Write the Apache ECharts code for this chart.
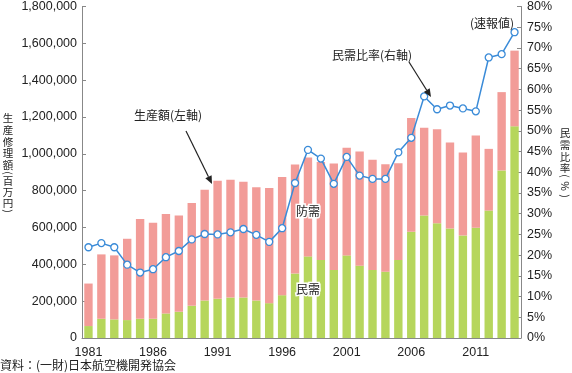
<!DOCTYPE html>
<html><head><meta charset="utf-8">
<script src="https://cdn.jsdelivr.net/npm/echarts@6/dist/echarts.min.js"></script>
<style>html,body{margin:0;padding:0;background:#fff}#c{width:572px;height:373px}</style>
</head><body><div id="c"></div>
<script>
const years = ['1981','1982','1983','1984','1985','1986','1987','1988','1989','1990','1991','1992','1993','1994','1995','1996','1997','1998','1999','2000','2001','2002','2003','2004','2005','2006','2007','2008','2009','2010','2011','2012','2013','2014'];
const civil = [64900,104500,101000,97300,104500,104500,133300,142300,174800,203600,212600,219800,219800,203600,189200,232400,350000,443200,423400,369400,448600,392800,369400,360300,423400,576500,664900,623400,594600,556800,598200,691900,909900,1149500];
const defense = [230800,349500,347600,441500,542300,520700,540500,522600,558500,601800,641400,639600,628800,614400,625200,641400,592000,536800,531600,578300,583800,619800,598200,583800,526100,618100,477400,509900,466700,450400,500900,335100,425200,410900];
const civilRatio = [21.9,22.9,21.9,17.7,15.8,16.6,19.5,21.0,23.8,25.1,25.0,25.5,26.3,24.9,23.2,26.5,37.4,45.4,43.3,37.2,43.7,39.2,38.4,38.4,44.8,48.3,58.3,55.2,56.1,55.4,54.7,67.7,68.5,73.8];

const FONT = '"Liberation Sans", Arial, sans-serif';
const JP = '"Noto Sans CJK JP", sans-serif';
const chart = echarts.init(document.getElementById('c'));

function arrow(x1,y1,x2,y2){
  const a = Math.atan2(y2-y1,x2-x1), L=8, W=3.5;
  const bx = x2 - L*Math.cos(a), by = y2 - L*Math.sin(a);
  const px = -Math.sin(a)*W, py = Math.cos(a)*W;
  return [
    {type:'line', z:100, shape:{x1:x1,y1:y1,x2:bx,y2:by}, style:{stroke:'#222', lineWidth:1.2}},
    {type:'polygon', z:100, shape:{points:[[x2,y2],[bx+px,by+py],[bx-px,by-py]]}, style:{fill:'#222'}}
  ];
}

const txt = (x,y,t,extra,fs) => ({type:'text', z:100, x:x, y:y, style:Object.assign({text:t, font:(fs||12)+'px '+JP, fill:'#222', textAlign:'center', textVerticalAlign:'middle'}, extra||{})});

function haloText(x,y,t){
  return [
    txt(x,y,t,{fill:'#fff', stroke:'#fff', lineWidth:3}),
    Object.assign(txt(x,y,t), {z:101})
  ];
}

function vtitle(x, items){
  return items.map(([c,y,rot]) => {
    const el = txt(x,y,c,{font:'10.5px '+JP});
    if (rot) { el.rotation = -Math.PI/2; }
    return el;
  });
}

chart.setOption({
  animation:false,
  grid:{left:82, right:51, top:5, bottom:35},
  xAxis:{type:'category', data:years,
    axisLine:{lineStyle:{color:'#888'}},
    axisTick:{inside:true, interval:4, length:4, lineStyle:{color:'#888'}},
    axisLabel:{interval:4, color:'#222', fontFamily:FONT, fontSize:12.5, margin:8}},
  yAxis:[
    {type:'value', min:0, max:1800000, interval:200000, splitLine:{show:false},
     axisLine:{show:true, lineStyle:{color:'#888'}},
     axisTick:{show:true, inside:true, length:4, lineStyle:{color:'#888'}},
     axisLabel:{color:'#222', fontFamily:FONT, fontSize:12.5, margin:5,
       formatter:v=>v.toLocaleString('en-US')}},
    {type:'value', min:0, max:80, interval:5, splitLine:{show:false},
     axisLine:{show:true, lineStyle:{color:'#888'}},
     axisTick:{show:true, inside:true, length:4, lineStyle:{color:'#888'}},
     axisLabel:{color:'#222', fontFamily:FONT, fontSize:12.5, margin:6, formatter:'{value}%'}}
  ],
  series:[
    {name:'民需', type:'bar', stack:'t', data:civil, barCategoryGap:'35%', itemStyle:{color:'#b6d65c'}},
    {name:'防需', type:'bar', stack:'t', data:defense, itemStyle:{color:'#f29c98'}},
    {name:'民需比率', type:'line', yAxisIndex:1, data:civilRatio, symbol:'circle', symbolSize:7,
     lineStyle:{color:'#3a8bd8', width:1.5},
     itemStyle:{color:'#fff', borderColor:'#3a8bd8', borderWidth:1.3}}
  ],
  graphic:[
    txt(168,115,'生産額(左軸)'),
    txt(372,55,'民需比率(右軸)'),
    txt(492,23,'(速報値)'),
    ...haloText(308,211,'防需'),
    ...haloText(308,289,'民需'),
    {type:'text', z:100, x:0, y:365, style:{text:'資料：(一財)日本航空機開発協会', font:'12px '+JP, fill:'#222', textVerticalAlign:'middle'}},
    ...vtitle(8, [['生',118],['産',130],['修',142],['理',153],['額',165],['(',173,1],['百',181],['万',192],['円',203],[')',211,1]]),
    ...vtitle(565, [['民',133],['需',145],['比',157],['率',168],['(',176,1],['%',186,1],[')',196,1]]),
    ...arrow(186,131,212,184),
    ...arrow(409,62,431,97)
  ]
});
</script></body></html>
